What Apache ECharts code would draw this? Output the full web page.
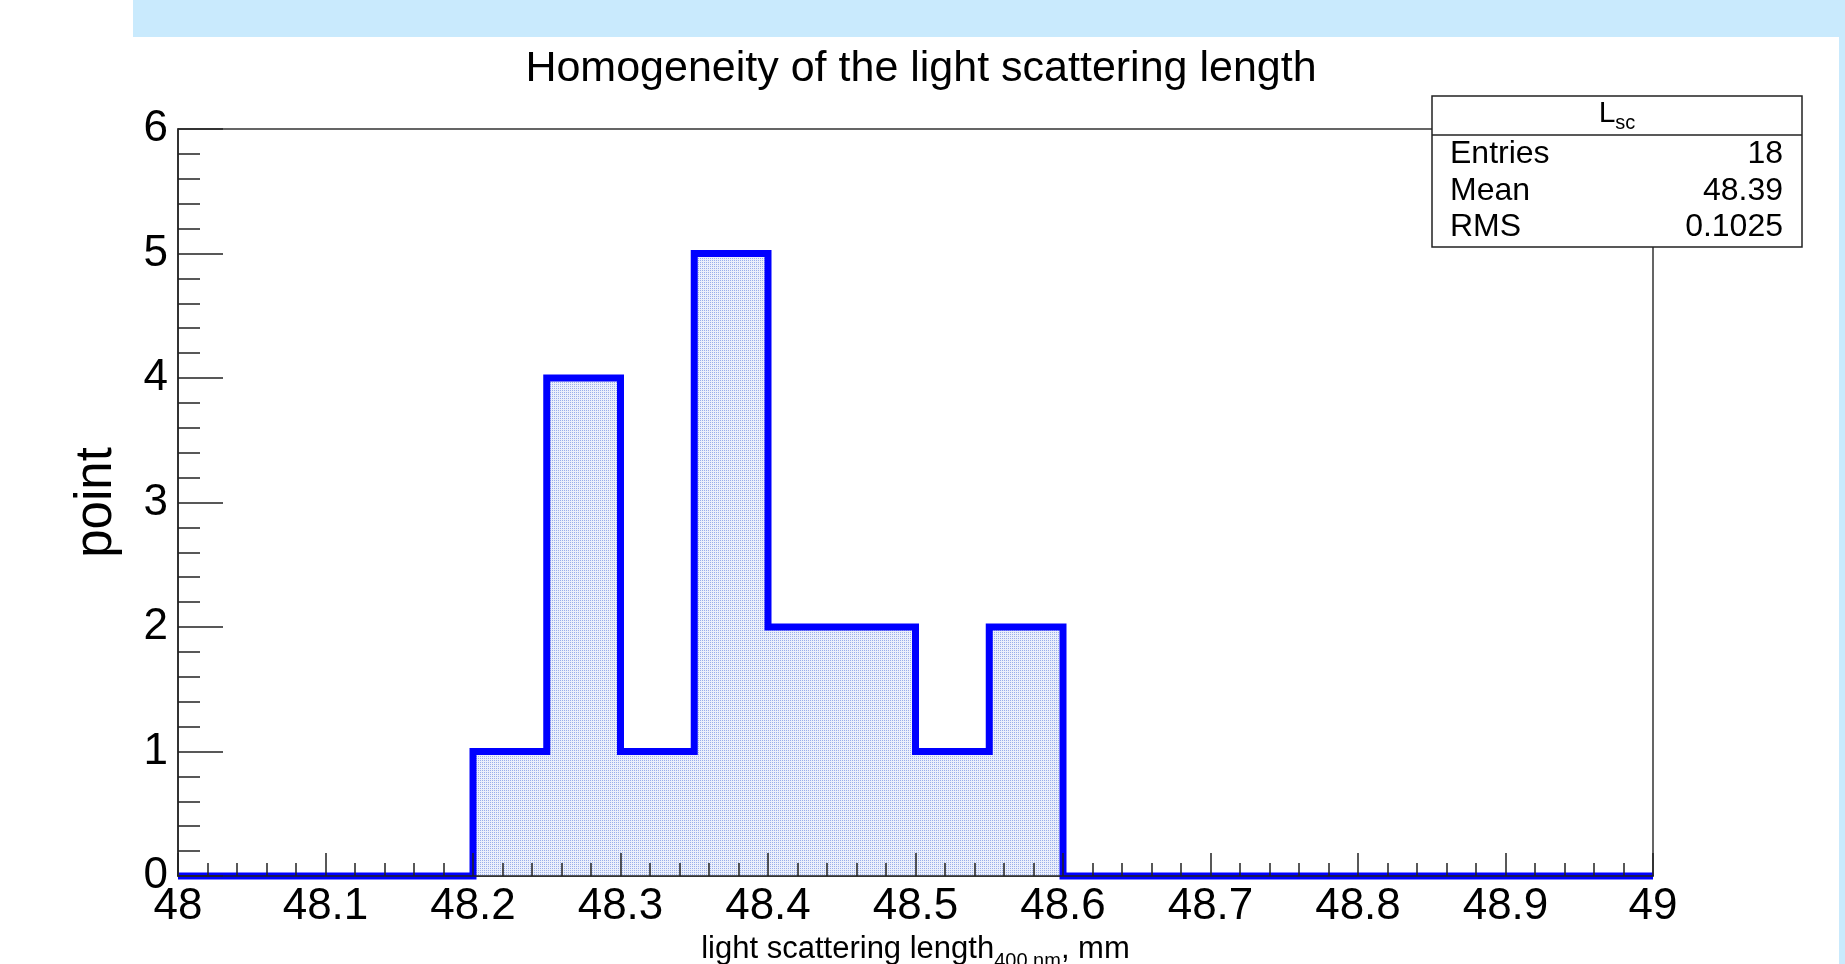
<!DOCTYPE html>
<html>
<head>
<meta charset="utf-8">
<script src="https://cdn.jsdelivr.net/npm/echarts@6/dist/echarts.min.js"></script>
<style>
html,body{margin:0;padding:0;background:#fff;}
#chart{width:1845px;height:964px;}
</style>
</head>
<body>
<div id="chart"></div>
<script>
// ---- data ----
const binLowEdges = [48.00,48.05,48.10,48.15,48.20,48.25,48.30,48.35,48.40,48.45,48.50,48.55,48.60,48.65,48.70,48.75,48.80,48.85,48.90,48.95];
const binUpperEdge = 49.00;
const binCounts = [0,0,0,0,1,4,1,5,2,2,1,2,0,0,0,0,0,0,0,0];
const xTicks = [48,48.1,48.2,48.3,48.4,48.5,48.6,48.7,48.8,48.9,49];
const yTicks = [0,1,2,3,4,5,6];
const chartTitle = 'Homogeneity of the light scattering length';
const xTitleMain = 'light scattering length';
const xTitleSub = '400 nm';
const xTitleTail = ', mm';
const yTitle = 'point';
const statsName = 'L';
const statsNameSub = 'sc';
const statNames = ['Entries','Mean','RMS'];
const statValues = ['18','48.39','0.1025'];

// ---- build ----
const FONT = 'Liberation Sans, Arial, Helvetica, sans-serif';
const stepData = binLowEdges.map((x,i)=>[x, binCounts[i]]).concat([[binUpperEdge, 0]]);

function makePattern(){
  const c = document.createElement('canvas');
  c.width = 2; c.height = 2;
  const g = c.getContext('2d');
  g.fillStyle = '#ebeffb'; g.fillRect(0,0,2,2);
  g.fillStyle = '#9aaeea'; g.fillRect(0,0,1,1);
  return c;
}

const grid = {left:178, top:129, right:192, bottom:88};
const statsBox = {x:1432, y:96, w:370, h:151, headerH:39};

const statGraphics = [];
statGraphics.push({type:'rect', z:100, shape:{x:statsBox.x, y:statsBox.y, width:statsBox.w, height:statsBox.h},
  style:{fill:'#fff', stroke:'#222', lineWidth:1.5}});
statGraphics.push({type:'line', z:101, shape:{x1:statsBox.x, y1:statsBox.y+statsBox.headerH, x2:statsBox.x+statsBox.w, y2:statsBox.y+statsBox.headerH},
  style:{stroke:'#222', lineWidth:1.5}});
statGraphics.push({type:'text', z:102, x:statsBox.x+statsBox.w/2, y:99,
  style:{text:'{a|'+statsName+'}{b|'+statsNameSub+'}', align:'center', verticalAlign:'top',
    rich:{a:{fontSize:30, fontFamily:FONT, lineHeight:30, verticalAlign:'top', fill:'#000'},
          b:{fontSize:20, fontFamily:FONT, lineHeight:20, padding:[14,0,0,0], verticalAlign:'top', fill:'#000'}}}});
statNames.forEach((n,i)=>{
  const yMid = 154 + i*36.7;
  statGraphics.push({type:'text', z:102, x:statsBox.x+18, y:yMid,
    style:{text:n, font:'32px '+FONT, fill:'#000', align:'left', verticalAlign:'middle'}});
  statGraphics.push({type:'text', z:102, x:statsBox.x+statsBox.w-19, y:yMid,
    style:{text:statValues[i], font:'32px '+FONT, fill:'#000', align:'right', verticalAlign:'middle'}});
});

const option = {
  animation:false,
  backgroundColor:'#fff',
  title:{text:chartTitle, left:916, top:43, textAlign:'center',
    textStyle:{fontSize:43, fontWeight:'normal', color:'#000', fontFamily:FONT}},
  grid:{left:grid.left, top:grid.top, right:grid.right, bottom:grid.bottom, outerBoundsMode:'none', containLabel:false,
    show:true, borderColor:'#333', borderWidth:1.5, backgroundColor:'transparent'},
  xAxis:{
    type:'value', min:xTicks[0], max:xTicks[xTicks.length-1], interval:0.1, z:5,
    axisLine:{show:true, onZero:false, lineStyle:{color:'#222', width:1.5}},
    axisTick:{show:true, inside:true, length:23, lineStyle:{color:'#222', width:1.5}},
    minorTick:{show:true, splitNumber:5, length:13, lineStyle:{color:'#222', width:1.5}},
    splitLine:{show:false},
    axisLabel:{fontSize:44, fontFamily:FONT, color:'#000', margin:9,
      formatter:(v)=>String(Math.round(v*10)/10)},
    name:'{m|'+xTitleMain+'}{s|'+xTitleSub+'}{m|'+xTitleTail+'}',
    nameLocation:'middle', nameGap:45,
    nameTextStyle:{rich:{
      m:{fontSize:31, fontFamily:FONT, color:'#000', lineHeight:38, verticalAlign:'top'},
      s:{fontSize:20, fontFamily:FONT, color:'#000', lineHeight:20, padding:[18,0,0,0], verticalAlign:'top'}
    }}
  },
  yAxis:{
    type:'value', min:yTicks[0], max:yTicks[yTicks.length-1], interval:1, z:5,
    axisLine:{show:true, lineStyle:{color:'#222', width:1.5}},
    axisTick:{show:true, inside:true, length:45, lineStyle:{color:'#222', width:1.5}},
    minorTick:{show:true, splitNumber:5, length:22, lineStyle:{color:'#222', width:1.5}},
    splitLine:{show:false},
    axisLabel:{fontSize:44, fontFamily:FONT, color:'#000', margin:10},
    name:yTitle, nameLocation:'middle', nameRotate:90, nameGap:56,
    nameTextStyle:{fontSize:51, fontFamily:FONT, color:'#000'}
  },
  series:[{
    type:'line', step:'end', data:stepData, showSymbol:false, symbol:'none', clip:false, z:3,
    lineStyle:{color:'#0000ff', width:7, join:'miter', cap:'butt'},
    areaStyle:{color:{image:makePattern(), repeat:'repeat'}, opacity:1, origin:'start'}
  }],
  graphic:[
    {type:'rect', z:-10, silent:true, shape:{x:133, y:0, width:1712, height:37}, style:{fill:'#c9eafd'}},
    {type:'rect', z:-10, silent:true, shape:{x:1839, y:0, width:6, height:964}, style:{fill:'#c9eafd'}}
  ].concat(statGraphics)
};

const chart = echarts.init(document.getElementById('chart'), null, {renderer:'canvas'});
chart.setOption(option);
</script>
</body>
</html>
